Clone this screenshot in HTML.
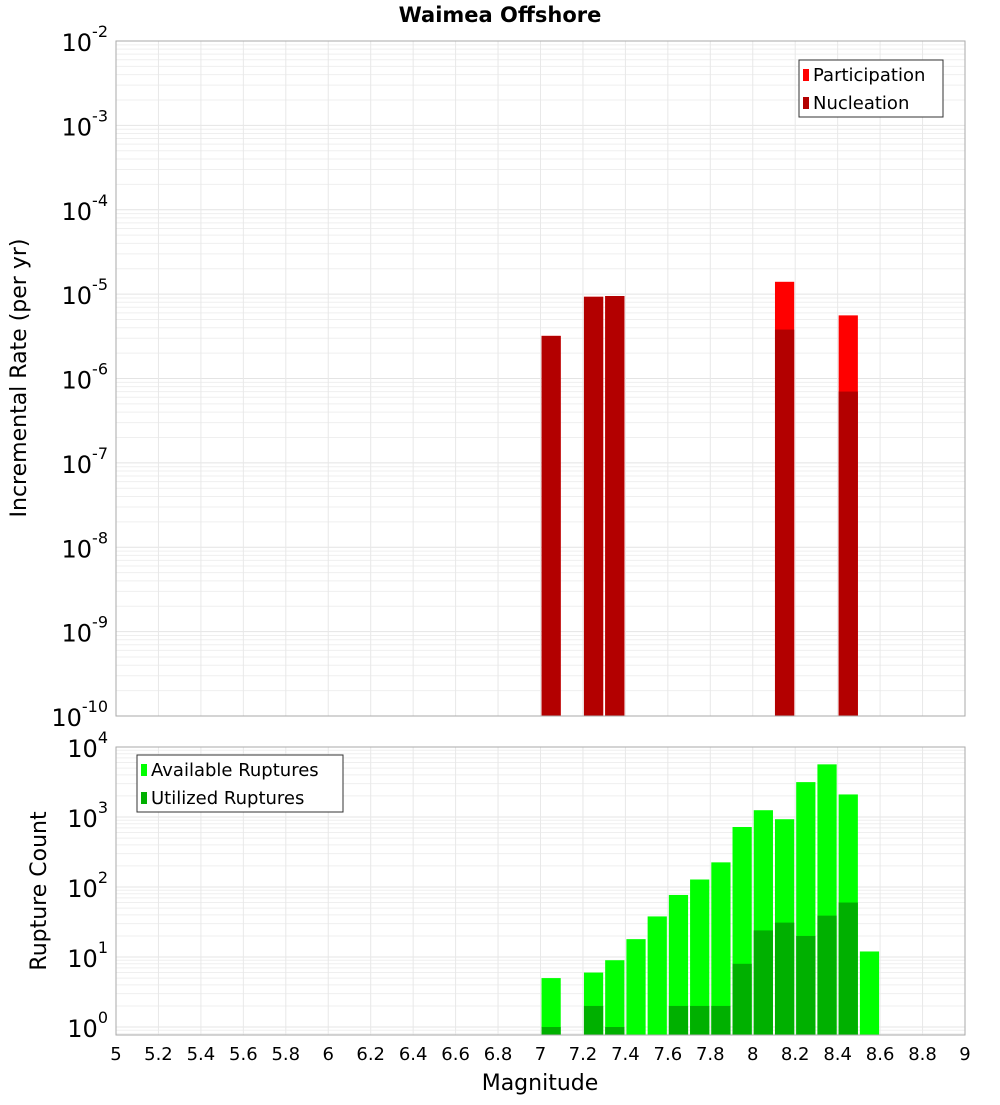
<!DOCTYPE html>
<html><head><meta charset="utf-8"><style>
body{margin:0;background:#fff;}
svg text{font-family:"DejaVu Sans","Liberation Sans",sans-serif;}
</style></head><body>
<svg id="c" width="1000" height="1100" xmlns="http://www.w3.org/2000/svg">
<text x="500" y="22" text-anchor="middle" font-size="21" font-weight="bold">Waimea Offshore</text>
<text transform="translate(26,378) rotate(-90)" text-anchor="middle" font-size="22">Incremental Rate (per yr)</text>
<text transform="translate(46,891) rotate(-90)" text-anchor="middle" font-size="22">Rupture Count</text>
<text x="540" y="1090" text-anchor="middle" font-size="22">Magnitude</text>
</svg>
<script>
const topMags=[7.05,7.25,7.35,8.15,8.45];
const participation=[3.2e-6,9.3e-6,9.5e-6,1.4e-5,5.6e-6];
const nucleation=[3.2e-6,9.3e-6,9.5e-6,3.8e-6,7e-7];
const botMags=[7.05,7.25,7.35,7.45,7.55,7.65,7.75,7.85,7.95,8.05,8.15,8.25,8.35,8.45,8.55];
const available=[5,6,9,18,38,77,128,225,720,1250,930,3150,5650,2100,12];
const utilized=[1,2,1,0,0,2,2,2,8,24,31,20,39,60,0];
const xTicks=[5,5.2,5.4,5.6,5.8,6,6.2,6.4,6.6,6.8,7,7.2,7.4,7.6,7.8,8,8.2,8.4,8.6,8.8,9];
const topExps=[-10,-9,-8,-7,-6,-5,-4,-3,-2];
const botExps=[0,1,2,3,4];

const svg=document.getElementById('c');
const NS='http://www.w3.org/2000/svg';
function mk(tag,attrs,parent){const e=document.createElementNS(NS,tag);for(const k in attrs)e.setAttribute(k,attrs[k]);(parent||svg).appendChild(e);return e;}
const X0=116,X1=965;
const xs=m=>X0+(m-5)/(9-5)*(X1-X0);
const T={top:41,bot:716,min:-10,max:-2};
const B={top:747,bot:1035,min:-0.114,max:4};
const ys=(P,v)=>P.bot-(Math.log10(v)-P.min)/(P.max-P.min)*(P.bot-P.top);

function panel(P,name){
  const g=mk('g',{});
  
  
  for(let e=Math.floor(P.min);e<P.max;e++){for(let k=1;k<10;k++){const v=k*Math.pow(10,e);const lv=Math.log10(v);if(lv<P.min||lv>P.max)continue;const y=ys(P,v);mk('line',{x1:X0,x2:X1,y1:y,y2:y,stroke:k==1?'#e4e4e4':'#efefef','stroke-width':1},g);}}
  xTicks.forEach(t=>{const x=xs(t);mk('line',{x1:x,x2:x,y1:P.top,y2:P.bot,stroke:'#e8e8e8','stroke-width':1},g);});
}
panel(T,'top');panel(B,'bottom');

function bar(P,m,v,color,name){
  if(v<=0)return;
  const y=Math.max(ys(P,v),P.top);
  const r=mk('rect',{x:xs(m-0.05)+1,y:y,width:xs(m+0.05)-xs(m-0.05)-2,height:P.bot-y,fill:color});
  
  
}
topMags.forEach((m,i)=>{bar(T,m,participation[i],'#ff0000','participation-bar');bar(T,m,nucleation[i],'#b30000','nucleation-bar');});
botMags.forEach((m,i)=>{bar(B,m,available[i],'#00ff00','available-bar');bar(B,m,utilized[i],'#00b000','utilized-bar');});

[T,B].forEach((P,idx)=>{const r=mk('rect',{x:X0,y:P.top,width:X1-X0,height:P.bot-P.top,fill:'none',stroke:'#aaa','stroke-width':1});

});

function ylab(P,e,name){const y=ys(P,Math.pow(10,e));const t=mk('text',{x:108,y:y+10,'text-anchor':'end','font-size':24});


const s1=document.createElementNS(NS,'tspan');s1.textContent='10';t.appendChild(s1);
const s2=document.createElementNS(NS,'tspan');s2.setAttribute('dy','-14');s2.setAttribute('font-size','16');s2.textContent=String(e);t.appendChild(s2);}
topExps.forEach(e=>ylab(T,e,'top-y-tick-label'));
botExps.forEach(e=>ylab(B,e,'bottom-y-tick-label'));
xTicks.forEach(t=>{const x=mk('text',{x:xs(t),y:1060,'text-anchor':'middle','font-size':18});x.textContent=String(t);

});

function legend(x,y,w,items,name){const g=mk('g',{});


mk('rect',{x:x,y:y,width:w,height:57,fill:'#fff',stroke:'#333','stroke-width':1},g);
items.forEach((it,i)=>{mk('rect',{x:x+4,y:y+9+i*28,width:6,height:12,fill:it[1]},g);const t=mk('text',{x:x+14,y:y+21+i*28,'font-size':18},g);t.textContent=it[0];});}
legend(799,60,144,[['Participation','#ff0000'],['Nucleation','#b30000']],'top-legend');
legend(137,755,206,[['Available Ruptures','#00ff00'],['Utilized Ruptures','#00b000']],'bottom-legend');
</script>
</body></html>
